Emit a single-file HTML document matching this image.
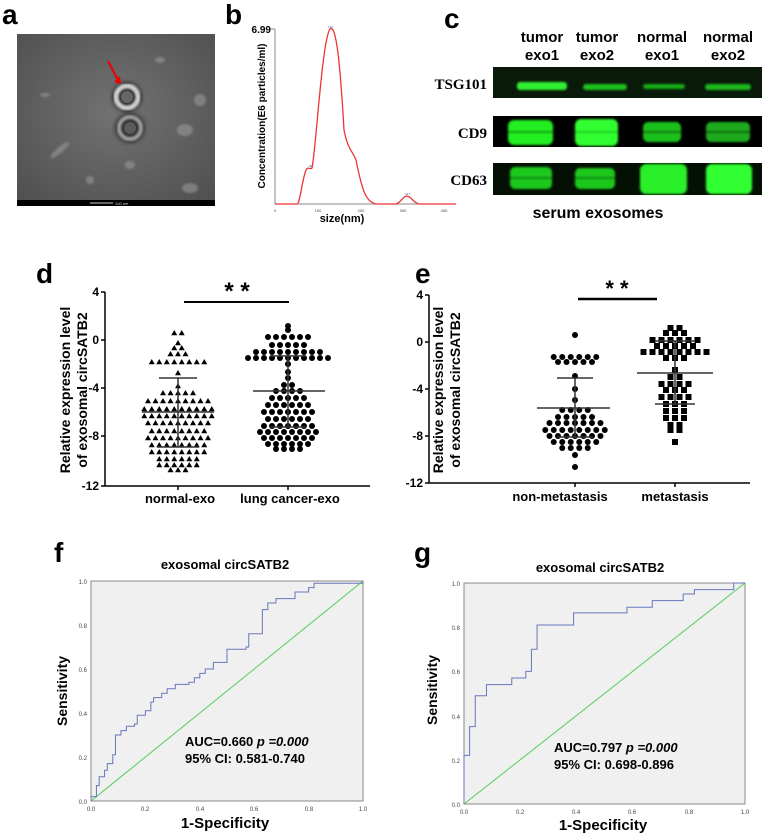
<!DOCTYPE html>
<html><head><meta charset="utf-8"><style>
body{margin:0;background:#fff;}
svg{display:block;font-family:"Liberation Sans",Arial,sans-serif;}
</style></head><body>
<svg id="s" width="770" height="834" viewBox="0 0 770 834" xmlns="http://www.w3.org/2000/svg">
<defs>
<radialGradient id="tem" cx="0.5" cy="0.45" r="0.7"><stop offset="0" stop-color="#727272"/><stop offset="1" stop-color="#505050"/></radialGradient>
<filter id="bl"><feGaussianBlur stdDeviation="2"/></filter>
<filter id="bl1"><feGaussianBlur stdDeviation="1"/></filter>
</defs>
<g font-weight="bold" font-size="28" fill="#000">
<text x="2" y="24">a</text><text x="225" y="24">b</text><text x="444" y="28">c</text>
<text x="36" y="283">d</text><text x="415" y="283">e</text>
<text x="54" y="562">f</text><text x="414" y="562">g</text>
</g>
<!-- a: TEM -->
<rect x="17" y="34" width="198" height="172" fill="url(#tem)"/>
<g filter="url(#bl1)" fill="#9a9a9a" opacity="0.6">
<ellipse cx="45" cy="95" rx="5" ry="2"/><ellipse cx="60" cy="150" rx="12" ry="3" transform="rotate(-40 60 150)"/>
<ellipse cx="185" cy="130" rx="8" ry="6"/><ellipse cx="190" cy="188" rx="8" ry="5"/><ellipse cx="200" cy="100" rx="6" ry="6"/>
<ellipse cx="130" cy="165" rx="5" ry="4"/><ellipse cx="90" cy="180" rx="4" ry="4"/><ellipse cx="160" cy="60" rx="5" ry="3"/>
</g>
<circle cx="127" cy="97" r="15" fill="#333" filter="url(#bl)"/>
<circle cx="127" cy="97" r="11" fill="none" stroke="#d0d0d0" stroke-width="5" filter="url(#bl1)"/>
<circle cx="127" cy="97" r="6" fill="#666"/>
<circle cx="130" cy="128" r="15" fill="#333" filter="url(#bl)"/>
<circle cx="130" cy="128" r="11" fill="none" stroke="#a0a0a0" stroke-width="4" filter="url(#bl1)"/>
<circle cx="130" cy="128" r="6" fill="#5a5a5a"/>
<line x1="108" y1="61" x2="118" y2="80" stroke="#e00" stroke-width="2"/>
<polygon points="114,82 121,84 120,76" fill="#e00"/>
<rect x="17" y="200" width="198" height="6" fill="#000"/>
<line x1="90" y1="203" x2="113" y2="203" stroke="#ccc" stroke-width="1"/>
<text x="115" y="205" font-size="4" fill="#ccc">100 nm</text>
<!-- b -->
<line x1="275" y1="29" x2="275" y2="204" stroke="#888" stroke-width="1"/>
<line x1="275" y1="204" x2="456" y2="204" stroke="#888" stroke-width="1"/>
<line x1="271" y1="29" x2="275" y2="29" stroke="#888"/>
<text x="271" y="33" font-size="10" font-weight="bold" text-anchor="end">6.99</text>
<g font-size="4" fill="#444" text-anchor="middle"><text x="275" y="212">0</text><text x="318" y="212">100</text><text x="361" y="212">200</text><text x="403" y="212">300</text><text x="444" y="212">400</text></g>
<text x="342" y="222" font-size="11" font-weight="bold" text-anchor="middle">size(nm)</text>
<text transform="translate(265,116) rotate(-90)" font-size="10" font-weight="bold" text-anchor="middle">Concentration(E6 particles/ml)</text>
<path d="M275,204 L297,204 C300,204 302,180 306,170 C308,166 310,170 312,168 C316,150 322,40 330,29 C336,24 340,60 344,130 C348,150 352,150 356,160 C362,190 366,204 378,204 L395,204 C400,204 403,196 407,196 C411,196 414,204 420,204 L456,204" fill="none" stroke="#e33" stroke-width="1.3"/>
<g font-size="3" fill="#44c"><text x="328" y="28">130</text><text x="309" y="167">82</text><text x="405" y="195">317</text></g>
<!-- c -->
<g font-weight="bold" font-size="15" text-anchor="middle">
<text x="542" y="42">tumor</text><text x="542" y="60">exo1</text>
<text x="597" y="42">tumor</text><text x="597" y="60">exo2</text>
<text x="662" y="42">normal</text><text x="662" y="60">exo1</text>
<text x="728" y="42">normal</text><text x="728" y="60">exo2</text>
<text x="598" y="218" font-size="16">serum exosomes</text>
</g>
<g font-family="Liberation Serif,serif" font-weight="bold" font-size="15" text-anchor="end">
<text x="487" y="89">TSG101</text><text x="487" y="138">CD9</text><text x="487" y="185">CD63</text>
</g>
<rect x="493" y="67" width="269" height="31" fill="#0a1a0a"/>
<rect x="493" y="116" width="269" height="31" fill="#000"/>
<rect x="493" y="163" width="269" height="32" fill="#041004"/>
<g filter="url(#bl1)">
<rect x="517" y="82" width="50" height="8" rx="3" fill="#30f030"/><rect x="583" y="84" width="44" height="6" rx="3" fill="#1cc01c"/>
<rect x="643" y="84" width="42" height="5" rx="3" fill="#18a818"/><rect x="705" y="84" width="46" height="6" rx="3" fill="#1cb81c"/>
<rect x="508" y="120" width="45" height="25" rx="6" fill="#22ee22"/><rect x="575" y="119" width="43" height="27" rx="6" fill="#33ff33"/>
<rect x="643" y="122" width="38" height="20" rx="5" fill="#1cc01c"/><rect x="706" y="122" width="44" height="20" rx="5" fill="#1aaa1a"/>
<rect x="510" y="167" width="42" height="22" rx="5" fill="#1ec81e"/><rect x="575" y="168" width="40" height="21" rx="5" fill="#1ec81e"/>
<rect x="640" y="164" width="47" height="30" rx="6" fill="#2af02a"/><rect x="706" y="164" width="46" height="30" rx="6" fill="#30ff30"/>
<rect x="508" y="131" width="45" height="2" fill="#119911"/><rect x="575" y="131" width="43" height="2" fill="#22cc22"/><rect x="643" y="131" width="38" height="2" fill="#0c700c"/><rect x="706" y="131" width="44" height="2" fill="#0a600a"/>
<rect x="510" y="177" width="42" height="2" fill="#0d800d"/><rect x="575" y="177" width="40" height="2" fill="#0d800d"/>
</g>
<!-- d -->
<g stroke="#000" stroke-width="1.5" fill="none">
<line x1="105" y1="292" x2="105" y2="486"/><line x1="105" y1="486" x2="370" y2="486"/>
<line x1="101" y1="292" x2="105" y2="292"/><line x1="101" y1="340" x2="105" y2="340"/><line x1="101" y1="388" x2="105" y2="388"/><line x1="101" y1="436" x2="105" y2="436"/><line x1="101" y1="486" x2="105" y2="486"/>
<line x1="178" y1="486" x2="178" y2="490"/><line x1="288" y1="486" x2="288" y2="490"/>
<line x1="184" y1="302" x2="289" y2="302" stroke-width="2"/>
</g>
<g font-size="12" font-weight="bold" text-anchor="end"><text x="99" y="296">4</text><text x="99" y="344">0</text><text x="99" y="392">-4</text><text x="99" y="440">-8</text><text x="99" y="490">-12</text></g>
<text x="237" y="299" font-size="24" font-weight="bold" text-anchor="middle">* *</text>
<g font-size="13" font-weight="bold" text-anchor="middle"><text x="180" y="503">normal-exo</text><text x="290" y="503">lung cancer-exo</text></g>
<text transform="translate(70,390) rotate(-90)" font-size="14" font-weight="bold" text-anchor="middle"><tspan x="0" y="0">Relative expression level</tspan><tspan x="0" y="17">of exosomal circSATB2</tspan></text>
<!-- e -->
<g stroke="#000" stroke-width="1.5" fill="none">
<line x1="429" y1="295" x2="429" y2="483"/><line x1="429" y1="483" x2="750" y2="483"/>
<line x1="425" y1="295" x2="429" y2="295"/><line x1="425" y1="342" x2="429" y2="342"/><line x1="425" y1="389" x2="429" y2="389"/><line x1="425" y1="436" x2="429" y2="436"/><line x1="425" y1="483" x2="429" y2="483"/>
<line x1="575" y1="483" x2="575" y2="487"/><line x1="675" y1="483" x2="675" y2="487"/>
<line x1="578" y1="299" x2="657" y2="299" stroke-width="2.5"/>
</g>
<g font-size="12" font-weight="bold" text-anchor="end"><text x="423" y="299">4</text><text x="423" y="346">0</text><text x="423" y="393">-4</text><text x="423" y="440">-8</text><text x="423" y="487">-12</text></g>
<text x="617" y="296" font-size="22" font-weight="bold" text-anchor="middle">* *</text>
<g font-size="13" font-weight="bold" text-anchor="middle"><text x="560" y="501">non-metastasis</text><text x="675" y="501">metastasis</text></g>
<text transform="translate(443,390) rotate(-90)" font-size="14" font-weight="bold" text-anchor="middle"><tspan x="0" y="0">Relative expression level</tspan><tspan x="0" y="17">of exosomal circSATB2</tspan></text>
<g id="pts"></g>
<g stroke="#333" stroke-width="1.5">
<line x1="178" y1="378" x2="178" y2="447"/><line x1="159" y1="378" x2="197" y2="378"/><line x1="142" y1="412" x2="214" y2="412"/><line x1="157" y1="447" x2="199" y2="447"/>
<line x1="288" y1="357" x2="288" y2="427"/><line x1="270" y1="356" x2="306" y2="356"/><line x1="253" y1="391" x2="325" y2="391"/><line x1="270" y1="427" x2="306" y2="427"/>
<line x1="575" y1="378" x2="575" y2="437"/><line x1="557" y1="378" x2="593" y2="378"/><line x1="537" y1="408" x2="610" y2="408"/><line x1="557" y1="437" x2="593" y2="437"/>
<line x1="675" y1="341" x2="675" y2="404"/><line x1="655" y1="341" x2="695" y2="341"/><line x1="637" y1="373" x2="713" y2="373"/><line x1="655" y1="404" x2="695" y2="404"/>
</g>
<!-- f -->
<text x="225" y="569" font-size="13" font-weight="bold" text-anchor="middle">exosomal circSATB2</text>
<rect x="91" y="581" width="272" height="220" fill="#f0f0f0" stroke="#888"/>
<g font-size="6" fill="#444"><text x="87" y="584" text-anchor="end">1.0</text><text x="87" y="628" text-anchor="end">0.8</text><text x="87" y="672" text-anchor="end">0.6</text><text x="87" y="716" text-anchor="end">0.4</text><text x="87" y="760" text-anchor="end">0.2</text><text x="87" y="804" text-anchor="end">0.0</text>
<g text-anchor="middle"><text x="91" y="811">0.0</text><text x="145" y="811">0.2</text><text x="200" y="811">0.4</text><text x="254" y="811">0.6</text><text x="309" y="811">0.8</text><text x="363" y="811">1.0</text></g></g>
<text x="225" y="828" font-size="15" font-weight="bold" text-anchor="middle">1-Specificity</text>
<text transform="translate(67,691) rotate(-90)" font-size="14" font-weight="bold" text-anchor="middle">Sensitivity</text>
<line x1="91" y1="801" x2="363" y2="581" stroke="#5c5" stroke-width="1"/>
<path id="rf" fill="none" stroke="#67b" stroke-width="1"/>
<text x="185" y="746" font-size="13" font-weight="bold">AUC=0.660 <tspan font-style="italic">p =0.000</tspan></text>
<text x="185" y="763" font-size="13" font-weight="bold">95% CI:  0.581-0.740</text>
<!-- g -->
<text x="600" y="572" font-size="13" font-weight="bold" text-anchor="middle">exosomal circSATB2</text>
<rect x="464" y="583" width="281" height="221" fill="#f0f0f0" stroke="#888"/>
<g font-size="6" fill="#444"><text x="460" y="586" text-anchor="end">1.0</text><text x="460" y="630" text-anchor="end">0.8</text><text x="460" y="674" text-anchor="end">0.6</text><text x="460" y="719" text-anchor="end">0.4</text><text x="460" y="763" text-anchor="end">0.2</text><text x="460" y="807" text-anchor="end">0.0</text>
<g text-anchor="middle"><text x="464" y="814">0.0</text><text x="520" y="814">0.2</text><text x="576" y="814">0.4</text><text x="632" y="814">0.6</text><text x="689" y="814">0.8</text><text x="745" y="814">1.0</text></g></g>
<text x="603" y="830" font-size="15" font-weight="bold" text-anchor="middle">1-Specificity</text>
<text transform="translate(437,690) rotate(-90)" font-size="14" font-weight="bold" text-anchor="middle">Sensitivity</text>
<line x1="464" y1="804" x2="745" y2="583" stroke="#5c5" stroke-width="1"/>
<path id="rg" fill="none" stroke="#67b" stroke-width="1"/>
<text x="554" y="752" font-size="13" font-weight="bold">AUC=0.797 <tspan font-style="italic">p =0.000</tspan></text>
<text x="554" y="769" font-size="13" font-weight="bold">95% CI:  0.698-0.896</text>
</svg>
<script>
var NS="http://www.w3.org/2000/svg",g=document.getElementById("pts");
function el(t,a){var e=document.createElementNS(NS,t);for(var k in a)e.setAttribute(k,a[k]);g.appendChild(e);}
function grp(cx,rows,sp,shape){rows.forEach(function(r){var y=r[0],n=r[1];for(var i=0;i<n;i++){var x=cx+(i-(n-1)/2)*sp;
if(shape=="t")el("polygon",{points:(x)+","+(y-3)+" "+(x-3)+","+(y+2.2)+" "+(x+3)+","+(y+2.2),fill:"#000"});
else if(shape=="c")el("circle",{cx:x,cy:y,r:3,fill:"#000"});
else el("rect",{x:x-3,y:y-3,width:6,height:6,fill:"#000"});}});}
grp(178,[[333,2],[343,1],[348,2],[354,3],[362,8],[373,1],[386,1],[393,5],[401,9],[409,10],[416,10],[423,9],[431,8],[438,9],[445,8],[452,8],[459,6],[465,6],[470,3]],7.5,"t");
grp(288,[[326,1],[330,1],[337,6],[345,5],[352,9],[358,11],[364,1],[372,1],[378,1],[385,2],[391,4],[398,5],[405,6],[412,7],[419,6],[426,7],[432,8],[438,7],[444,6],[449,4]],8,"c");
grp(575,[[335,1],[357,6],[362,5],[376,1],[389,1],[400,1],[410,4],[417,5],[423,7],[430,8],[436,7],[442,6],[448,4],[455,1],[467,1]],8.5,"c");
grp(675,[[328,2],[333,3],[340,6],[346,5],[352,8],[358,3],[370,1],[377,2],[384,4],[390,3],[397,4],[404,3],[411,3],[418,3],[425,2],[430,2],[442,1]],9,"s");
function roc(id,x0,y0,w,h,pts){var d="M"+x0+","+(y0+h);pts.forEach(function(p){d+=" H"+(x0+p[0]*w)+" V"+(y0+h-p[1]*h);});d+=" H"+(x0+w);document.getElementById(id).setAttribute("d",d);}
roc("rf",91,581,272,220,[[0,0.02],[0.02,0.07],[0.03,0.11],[0.05,0.14],[0.06,0.17],[0.08,0.21],[0.09,0.3],[0.11,0.32],[0.13,0.34],[0.16,0.35],[0.17,0.39],[0.2,0.41],[0.22,0.45],[0.23,0.47],[0.26,0.49],[0.28,0.51],[0.31,0.53],[0.36,0.54],[0.38,0.56],[0.4,0.58],[0.42,0.6],[0.45,0.63],[0.5,0.69],[0.57,0.7],[0.58,0.76],[0.63,0.87],[0.65,0.9],[0.68,0.92],[0.75,0.95],[0.8,0.97],[0.82,0.99],[1,1]]);
roc("rg",464,583,281,221,[[0,0.22],[0.02,0.35],[0.04,0.49],[0.08,0.54],[0.17,0.57],[0.22,0.6],[0.24,0.7],[0.26,0.81],[0.39,0.865],[0.58,0.89],[0.67,0.92],[0.78,0.95],[0.82,0.97],[0.96,1]]);
</script>
</body></html>
